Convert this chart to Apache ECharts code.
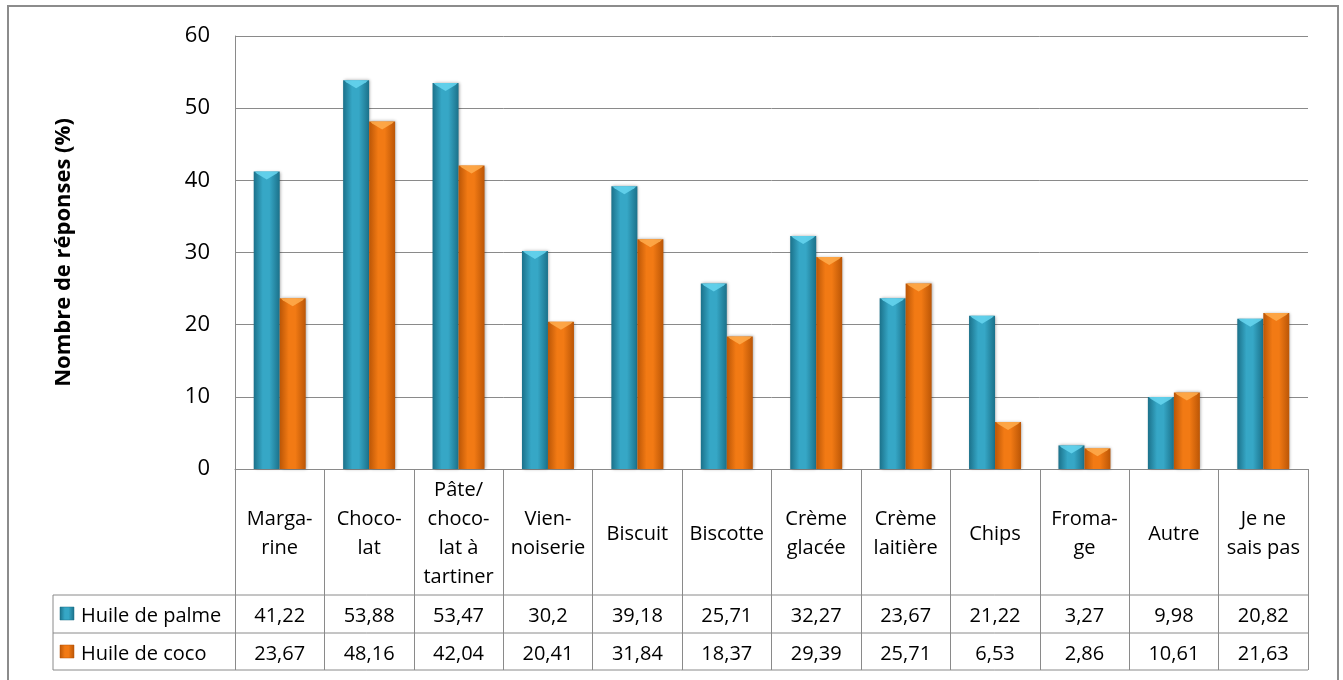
<!DOCTYPE html>
<html>
<head>
<meta charset="utf-8">
<script src="https://cdn.jsdelivr.net/npm/echarts@6/dist/echarts.min.js"></script>
<style>
  html, body { margin: 0; padding: 0; background: #fff; }
  #chart { width: 1343px; height: 680px; }
</style>
</head>
<body>
<div id="chart"></div>
<script>
// Product categories (line breaks as shown in the table header)
const categories = [
  'Marga-\nrine', 'Choco-\nlat', 'Pâte/\nchoco-\nlat à\ntartiner', 'Vien-\nnoiserie',
  'Biscuit', 'Biscotte', 'Crème\nglacée', 'Crème\nlaitière',
  'Chips', 'Froma-\nge', 'Autre', 'Je ne\nsais pas'
];
const seriesNames = ['Huile de palme', 'Huile de coco'];
const palmValues = [41.22, 53.88, 53.47, 30.2, 39.18, 25.71, 32.27, 23.67, 21.22, 3.27, 9.98, 20.82];
const cocoValues = [23.67, 48.16, 42.04, 20.41, 31.84, 18.37, 29.39, 25.71, 6.53, 2.86, 10.61, 21.63];
const yTicks = { min: 0, max: 60, interval: 10 };
const yTitle = 'Nombre de réponses (%)';

const FONT = '"Open Sans"';
const FS = 20;          // table text
const FS_TICK = 22;     // value axis labels
const GRID = { left: 235, right: 35, top: 36, bottom: 211 };
const BAR_W = 26;
const AXIS_GRAY = '#8a8a8a';

const fmt = v => String(v).replace('.', ',');

function barGradient(edge, mid) {
  return new echarts.graphic.LinearGradient(0, 0, 1, 0, [
    { offset: 0, color: edge },
    { offset: 0.35, color: mid },
    { offset: 0.6, color: mid },
    { offset: 1, color: edge }
  ]);
}
const palmFill = barGradient('#1b718a', '#36a7c6');
const cocoFill = barGradient('#bb5606', '#f27a14');

// Light chevron on the top of each bar
function bevel(offset, light) {
  return function (params, api) {
    const idx = api.value(0);
    const val = api.value(1);
    const top = api.coord([idx, val]);
    const x0 = top[0] + offset;
    const x1 = x0 + BAR_W;
    const xc = (x0 + x1) / 2;
    const y = top[1];
    return {
      type: 'polygon',
      shape: { points: [[x0 + 1, y], [x1 - 1, y], [x1 - 3, y + 2], [xc, y + 8], [x0 + 3, y + 2]] },
      style: { fill: light, opacity: 0.85 },
      silent: true
    };
  };
}

const chart = echarts.init(document.getElementById('chart'), null, { renderer: 'canvas' });

const tableTop = 469;
const headerBottom = 595, row1Bottom = 633, row2Bottom = 670;
const tableLeft = 53;
const tableRight = 1343 - GRID.right;
const headerMid = 534;
const row1Mid = 616;
const row2Mid = 654;

const option = {
  animation: false,
  textStyle: { fontFamily: FONT },
  grid: GRID,
  xAxis: [
    {
      type: 'category',
      data: categories,
      axisLine: { lineStyle: { color: AXIS_GRAY, width: 1 } },
      axisTick: { show: true, length: row2Bottom - tableTop, interval: 0, lineStyle: { color: AXIS_GRAY, width: 1 } },
      axisLabel: {
        interval: 0, color: '#000', fontFamily: FONT, fontSize: FS,
        lineHeight: 29, verticalAlign: 'middle', margin: headerMid - tableTop
      }
    },
    {
      type: 'category',
      data: palmValues.map(fmt),
      position: 'bottom',
      axisLine: { show: false }, axisTick: { show: false },
      axisLabel: {
        interval: 0, color: '#000', fontFamily: FONT, fontSize: FS,
        verticalAlign: 'middle', margin: row1Mid - tableTop
      }
    },
    {
      type: 'category',
      data: cocoValues.map(fmt),
      position: 'bottom',
      axisLine: { show: false }, axisTick: { show: false },
      axisLabel: {
        interval: 0, color: '#000', fontFamily: FONT, fontSize: FS,
        verticalAlign: 'middle', margin: row2Mid - tableTop
      }
    }
  ],
  yAxis: {
    type: 'value',
    min: yTicks.min, max: yTicks.max, interval: yTicks.interval,
    name: yTitle,
    nameLocation: 'middle',
    nameGap: 160,
    nameTextStyle: { fontFamily: FONT, fontSize: 22, fontWeight: 'bold', color: '#000' },
    axisLine: { show: true, lineStyle: { color: AXIS_GRAY, width: 1 } },
    axisTick: { show: false },
    axisLabel: { color: '#000', fontFamily: FONT, fontSize: FS_TICK, margin: 25 },
    splitLine: { lineStyle: { color: AXIS_GRAY, width: 1 } }
  },
  series: [
    {
      name: seriesNames[0], type: 'bar', data: palmValues,
      barWidth: BAR_W, barGap: '0%',
      itemStyle: { color: palmFill, shadowBlur: 3, shadowColor: 'rgba(0,0,0,0.35)', shadowOffsetX: 1 }
    },
    {
      name: seriesNames[1], type: 'bar', data: cocoValues,
      barWidth: BAR_W, barGap: '0%',
      itemStyle: { color: cocoFill, shadowBlur: 3, shadowColor: 'rgba(0,0,0,0.35)', shadowOffsetX: 1 }
    },
    {
      type: 'custom', z: 5, silent: true,
      data: palmValues.map((v, i) => [i, v]),
      renderItem: bevel(-BAR_W, '#67d6f0')
    },
    {
      type: 'custom', z: 5, silent: true,
      data: cocoValues.map((v, i) => [i, v]),
      renderItem: bevel(0, '#ffad4d')
    }
  ],
  graphic: [
    // outer frame
    { type: 'rect', shape: { x: 8, y: 6, width: 1330, height: 680 }, style: { fill: 'none', stroke: '#8c8c8c', lineWidth: 2 }, silent: true },
    // table rows
    { type: 'line', shape: { x1: tableLeft, y1: headerBottom, x2: tableRight, y2: headerBottom }, style: { stroke: AXIS_GRAY, lineWidth: 1 } },
    { type: 'line', shape: { x1: tableLeft, y1: row1Bottom, x2: tableRight, y2: row1Bottom }, style: { stroke: AXIS_GRAY, lineWidth: 1 } },
    { type: 'line', shape: { x1: tableLeft, y1: row2Bottom, x2: tableRight, y2: row2Bottom }, style: { stroke: AXIS_GRAY, lineWidth: 1 } },
    { type: 'line', shape: { x1: tableLeft, y1: headerBottom, x2: tableLeft, y2: row2Bottom }, style: { stroke: AXIS_GRAY, lineWidth: 1 } },
    // legend keys
    { type: 'rect', shape: { x: 60, y: 607, width: 14, height: 13 }, style: { fill: palmFill, stroke: '#1b6d85', lineWidth: 0.5 } },
    { type: 'rect', shape: { x: 60, y: 645, width: 14, height: 13 }, style: { fill: cocoFill, stroke: '#b45005', lineWidth: 0.5 } },
    { type: 'text', x: 81, y: row1Mid, style: { text: seriesNames[0], font: FS + 'px ' + FONT, fill: '#000', verticalAlign: 'middle' } },
    { type: 'text', x: 81, y: row2Mid, style: { text: seriesNames[1], font: FS + 'px ' + FONT, fill: '#000', verticalAlign: 'middle' } }
  ]
};

chart.setOption(option);
</script>
</body>
</html>
